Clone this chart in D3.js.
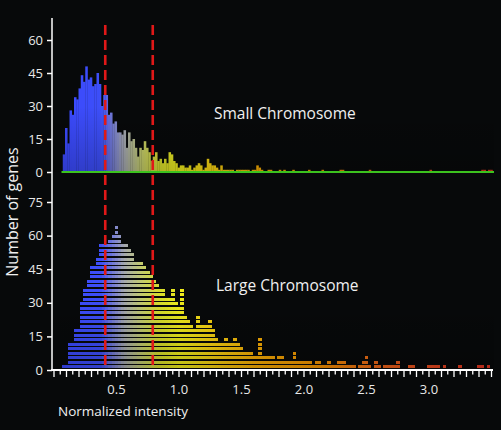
<!DOCTYPE html>
<html><head><meta charset="utf-8">
<script src="https://cdn.jsdelivr.net/npm/d3@7/dist/d3.min.js"></script>
<style>html,body{margin:0;padding:0;background:#07090a;}svg{display:block}</style>
</head><body><svg id="c" width="501" height="430"></svg>
<script>
// ---------- DATA ----------
const smallBinStart = 0.07, smallBinWidth = 0.018;
const smallCounts = [
 8,20,13,28,26,34,33,38,44,41,48,42,43,39,40,45,40,30,35,35,
 26,27,22,23,18,18,17,19,11,18,14,15,11,7,11,10,14,11,9,5,7,9,
 5,6,4,6,4,9,8,5,4,2,3,3,2,2,3,1,2,3,4,3,1,
 2,6,4,3,3,2,1,3,1,1,1,1,1,0,1,1,1,1,1,1,0,
 1,1,3,2,1,0,0,1,1,0,0,0,1,0,1,0,0,0,1,0,
 0,0,0,0,0,1,0,0,0,0,0,1,0,0,0,0,0,0,0,1,
 1,0,0,0,0,0,0,0,0,0,0,0,1,0,0,0,0,0,0,0,
 0,0,0,0,0,0,0,0,0,0,0,0,0,0,0,0,0,0,0,1,
 0,0,0,0,0,0,0,0,0,0,0,0,0,0,0,0,0,0,0,0,
 0,0,1,1,0,1,1
];
const largeBinStart = 0.06, largeBinWidth = 0.025;
const largeCounts = [
 2,2,12,12,18,18,30,36,40,46,46,50,56,56,56,58,60,64,60,56,
 56,54,52,48,48,48,46,44,42,40,38,36,36,32,32,36,30,28,36,24,
 22,20,18,24,20,20,20,22,18,14,12,12,14,12,12,14,12,10,8,8,
 8,6,6,14,6,6,6,6,4,6,6,4,4,4,8,4,4,4,4,4,
 2,4,4,2,2,4,2,2,4,4,4,2,2,2,0,2,4,6,2,0,
 4,2,0,2,2,2,2,4,0,0,0,2,2,0,0,0,0,2,2,2,
 2,0,2,0,0,0,0,2,0,0,0,0,0,2,2,0,2,0
];
const genesPerDot = 2;
const thresholds = [0.41, 0.79];
const xTickLabels = [0.5, 1.0, 1.5, 2.0, 2.5, 3.0];
const smallYTicks = [0, 15, 30, 45, 60];
const largeYTicks = [0, 15, 30, 45, 60, 75];
const panelTitles = ["Small Chromosome", "Large Chromosome"];

// ---------- STYLE ----------
const colorStopValues = [0, 0.38, 0.46, 0.56, 0.7, 0.85, 1.0, 1.25, 1.6, 2.1, 2.6, 3.1, 3.5];
const colorStopColors = ["#3a48ff","#3d4ff8","#7078d8","#a2a6b0","#c4cc6c","#d8de2c","#eeec1c","#f8d412","#f8ae04","#f49400","#ec6418","#e44420","#dc3220"];
const color = d3.scaleLinear().domain(colorStopValues).range(colorStopColors);

const svg = d3.select("#c");
svg.append("rect").attr("width",501).attr("height",430).attr("fill","#07090a");

const x = d3.scaleLinear().domain([0, 3.5]).range([54, 491.5]);
const yS = d3.scaleLinear().domain([0, 70]).range([172, 18]);
const yL = d3.scaleLinear().domain([0, 75]).range([370, 202]);

const defs = svg.append("defs");
const g1 = defs.append("linearGradient").attr("id","shade").attr("x1",0).attr("y1",0).attr("x2",0).attr("y2",1);
g1.append("stop").attr("offset","0").attr("stop-color","#000").attr("stop-opacity",0);
g1.append("stop").attr("offset","0.5").attr("stop-color","#000").attr("stop-opacity",0);
g1.append("stop").attr("offset","1").attr("stop-color","#000").attr("stop-opacity",0.2);

// small chromosome histogram
const sBins = smallCounts.map((c,i)=>({x0: smallBinStart + i*smallBinWidth, x1: smallBinStart + (i+1)*smallBinWidth, c}));
svg.append("g").selectAll("rect").data(sBins.filter(d=>d.c>0)).join("rect")
  .attr("x", d=>x(d.x0)).attr("width", d=>x(d.x1)-x(d.x0)+0.3)
  .attr("y", d=>yS(d.c)).attr("height", d=>yS(0)-yS(d.c))
  .attr("fill", d=>color((d.x0+d.x1)/2));
svg.append("rect").attr("x",52).attr("y",yS(60)).attr("width",442).attr("height",yS(0)-yS(60)).attr("fill","url(#shade)");

// large chromosome dot histogram
const cells = [];
largeCounts.forEach((c,i)=>{
  const x0 = largeBinStart + i*largeBinWidth, x1 = x0 + largeBinWidth;
  for (let k=1; k*genesPerDot<=c; k++) cells.push({x0, x1, v: k*genesPerDot});
});
svg.append("g").attr("shape-rendering","crispEdges").selectAll("rect").data(cells).join("rect")
  .attr("x", d=>x(d.x0)).attr("width", d=>x(d.x1)-x(d.x0)+0.6)
  .attr("y", d=>yL(d.v)-0.5).attr("height", 3)
  .attr("fill", d=>color((d.x0+d.x1)/2));
svg.append("rect").attr("x",52).attr("y",yL(66)).attr("width",442).attr("height",yL(0)-yL(66)).attr("fill","url(#shade)");

// green baseline of top panel
svg.append("line").attr("x1",x(0.06)).attr("x2",x(3.52)).attr("y1",yS(0)).attr("y2",yS(0))
  .attr("stroke","#3cc21e").attr("stroke-width",2);

// threshold lines
svg.append("g").selectAll("line").data(thresholds).join("line")
  .attr("x1",d=>x(d)).attr("x2",d=>x(d)).attr("y1",25).attr("y2",369)
  .attr("stroke","#e01818").attr("stroke-width",2.6).attr("stroke-dasharray","10,5");

// y axes
const font = "'Open Sans', 'DejaVu Sans', sans-serif";
svg.append("line").attr("x1",52).attr("x2",52).attr("y1",18).attr("y2",371).attr("stroke","#fff").attr("stroke-width",1.5);
function yAxis(scale, ticks){
  const g = svg.append("g").attr("transform","translate(52,0)")
    .call(d3.axisLeft(scale).tickValues(ticks).tickSize(5).tickPadding(4).tickFormat(d3.format("d")));
  g.select(".domain").remove();
  g.selectAll("line").attr("stroke","#fff").attr("stroke-width",1.5);
  g.selectAll("text").attr("fill","#e8e8e8").style("font-family",font).style("font-size","13px");
}
yAxis(yS, smallYTicks);
yAxis(yL, largeYTicks);

// x axis
const xg = svg.append("g").attr("transform","translate(0,370)");
const minor = d3.range(0, 71).map(i=>i*0.05);
xg.append("line").attr("x1",51).attr("x2",493).attr("y1",0).attr("y2",0).attr("stroke","#fff").attr("stroke-width",2.2);
xg.selectAll("line.t").data(minor).join("line").attr("class","t")
  .attr("x1",d=>x(d)).attr("x2",d=>x(d)).attr("y1",0).attr("y2",(d,i)=> i%2===0 ? 7 : 4.5)
  .attr("stroke","#fff").attr("stroke-width",1.3);
xg.selectAll("text").data(xTickLabels).join("text")
  .attr("x",d=>x(d)).attr("y",24).attr("text-anchor","middle")
  .attr("fill","#e8e8e8").style("font-family",font).style("font-size","13px")
  .text(d=>d3.format(".1f")(d));

// labels
svg.append("text").attr("x",214).attr("y",119).attr("fill","#f0f0f0").style("font-family",font).style("font-size","15.5px").text(panelTitles[0]);
svg.append("text").attr("x",216).attr("y",291).attr("fill","#f0f0f0").style("font-family",font).style("font-size","15.5px").text(panelTitles[1]);
svg.append("text").attr("x",58).attr("y",416).attr("fill","#f0f0f0").style("font-family",font).style("font-size","13.5px").text("Normalized intensity");
svg.append("text").attr("transform","translate(18,212) rotate(-90)").attr("text-anchor","middle")
  .attr("fill","#f0f0f0").style("font-family",font).style("font-size","16px").text("Number of genes");
</script></body></html>
